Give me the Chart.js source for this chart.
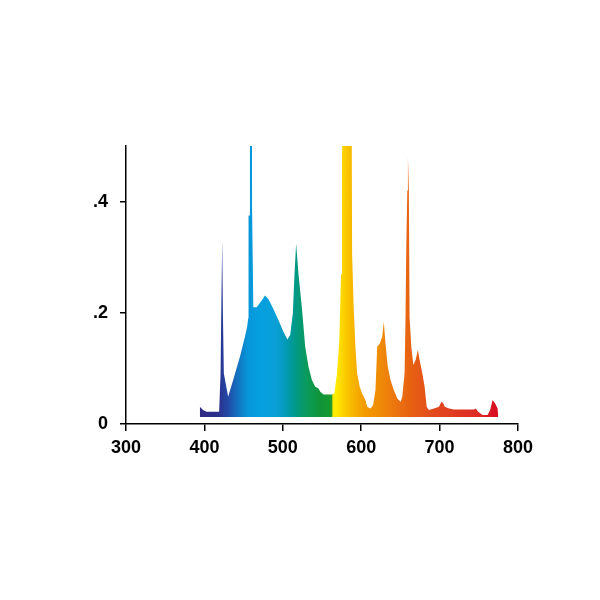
<!DOCTYPE html>
<html lang="en">
<head>
    <meta charset="UTF-8">
    <title>Lamp Spectrum</title>
    <script src="https://cdn.jsdelivr.net/npm/chart.js"></script>
    <style>
        body { margin: 0; background: #fff; }
    </style>
</head>
<body>

<canvas id="spectrumChart" width="600" height="600"></canvas>

<script>
// Spectral data (wavelength in nm, relative intensity)
const wavelengths = [
    394.1, 398.3, 402.7, 418.8, 420.6, 421.5, 422.7, 423.6, 424.8, 430.3,
    436.7, 445.3, 451.7, 454.5, 455.9, 456.3, 457.8, 458.1, 460.3, 460.8,
    461.6, 462.4, 466.7, 473.1, 477.3, 481.6, 488.0, 494.4, 500.8, 505.9,
    509.4, 512.8, 514.9, 517.0, 518.7, 520.0, 524.3, 528.6, 532.8, 537.1,
    541.4, 545.6, 547.8, 552.0, 562.7, 565.7, 569.1, 572.1, 574.3, 575.5,
    577.6, 587.1, 588.4, 590.4, 592.6, 594.8, 598.1, 601.2, 605.4, 607.6,
    611.8, 615.2, 618.2, 620.4, 623.7, 626.8, 628.8, 631.0, 633.9, 637.4,
    641.6, 646.0, 650.2, 652.4, 655.3, 656.5, 657.5, 658.8, 659.6, 660.8,
    661.7, 663.9, 666.5, 669.4, 672.3, 674.5, 678.0, 680.9, 683.5, 686.4,
    692.8, 699.2, 702.3, 704.9, 706.5, 712.0, 718.4, 744.0, 746.2, 749.2,
    754.8, 761.2, 764.5, 767.6, 770.9, 774.0, 774.8
];
const intensity = [
    0.031, 0.025, 0.022, 0.022, 0.090, 0.200, 0.331, 0.200, 0.091, 0.049,
    0.079, 0.121, 0.157, 0.175, 0.190, 0.375, 0.375, 0.900, 0.900, 0.390,
    0.390, 0.210, 0.210, 0.222, 0.231, 0.225, 0.207, 0.187, 0.166, 0.152,
    0.160, 0.199, 0.270, 0.324, 0.294, 0.270, 0.210, 0.139, 0.103, 0.079,
    0.067, 0.064, 0.058, 0.053, 0.053, 0.055, 0.091, 0.151, 0.270, 0.468,
    0.900, 0.900, 0.306, 0.210, 0.139, 0.091, 0.067, 0.055, 0.043, 0.031,
    0.028, 0.034, 0.061, 0.139, 0.145, 0.157, 0.184, 0.145, 0.103, 0.079,
    0.061, 0.046, 0.040, 0.049, 0.091, 0.187, 0.318, 0.420, 0.480, 0.420,
    0.192, 0.139, 0.106, 0.115, 0.133, 0.115, 0.091, 0.067, 0.031, 0.025,
    0.028, 0.031, 0.040, 0.037, 0.031, 0.028, 0.026, 0.026, 0.028, 0.022,
    0.016, 0.016, 0.025, 0.043, 0.037, 0.028, 0.013
];
const baseline = 0.0125;

const xTickValues = [300, 400, 500, 600, 700, 800];
const yTickValues = [0, 0.2, 0.4];
const yTickLabels = ['0', '.2', '.4'];

// wavelength -> colour used for the fill gradient
const spectrumColors = [
    [395, '#2e2a86'], [418, '#2c2f8e'], [430, '#234aa6'], [442, '#1470bf'],
    [455, '#0795d8'], [470, '#05a0e0'], [490, '#0aa0d8'], [503, '#049aba'],
    [515, '#00998a'], [530, '#0a9a5c'], [548, '#109438'], [562, '#179a2e'],
    [564, '#f5e600'], [567, '#ffee00'], [578, '#fcd000'], [590, '#f7b500'],
    [605, '#f39a00'], [625, '#ef8a08'], [650, '#ea6e10'], [665, '#e66012'],
    [690, '#e24c1c'], [720, '#e03a22'], [750, '#dd2a26'], [770, '#d81020']
];

const points = wavelengths.map((w, i) => ({ x: w, y: intensity[i] }));

function spectrumFill(context) {
    const chart = context.chart;
    const area = chart.chartArea;
    if (!area) return '#0aa0e0';
    const xs = chart.scales.x;
    const x0 = xs.getPixelForValue(380), x1 = xs.getPixelForValue(780);
    const g = chart.ctx.createLinearGradient(x0, 0, x1, 0);
    spectrumColors.forEach(([nm, c]) => g.addColorStop((nm - 380) / 400, c));
    return g;
}

const tickFont = { family: "'Liberation Sans', Arial, sans-serif", size: 18, weight: 'bold' };

new Chart(document.getElementById('spectrumChart'), {
    type: 'line',
    data: {
        datasets: [{
            data: points,
            borderWidth: 0,
            pointRadius: 0,
            tension: 0,
            fill: { value: baseline },
            backgroundColor: spectrumFill
        }]
    },
    options: {
        responsive: false,
        animation: false,
        devicePixelRatio: 1,
        layout: { padding: { left: 86, right: 82, top: 146, bottom: 136 } },
        plugins: { legend: { display: false }, tooltip: { enabled: false } },
        scales: {
            x: {
                type: 'linear',
                min: 300,
                max: 800,
                afterBuildTicks: axis => { axis.ticks = xTickValues.map(v => ({ value: v })); },
                afterFit: axis => { axis.height = 40; },
                grid: { drawOnChartArea: false, drawTicks: true, tickLength: 7, color: '#000', lineWidth: 1.5 },
                border: { color: '#000', width: 1.5 },
                ticks: { color: '#000', font: tickFont, padding: 6, maxRotation: 0 }
            },
            y: {
                min: 0,
                max: 0.5,
                afterBuildTicks: axis => { axis.ticks = yTickValues.map(v => ({ value: v })); },
                afterFit: axis => { axis.width = 40; },
                grid: { drawOnChartArea: false, drawTicks: true, tickLength: 6, color: '#000', lineWidth: 1.5 },
                border: { color: '#000', width: 1.5 },
                ticks: {
                    color: '#000',
                    font: tickFont,
                    padding: 12,
                    callback: v => yTickLabels[yTickValues.indexOf(v)]
                }
            }
        }
    }
});
</script>

</body>
</html>
